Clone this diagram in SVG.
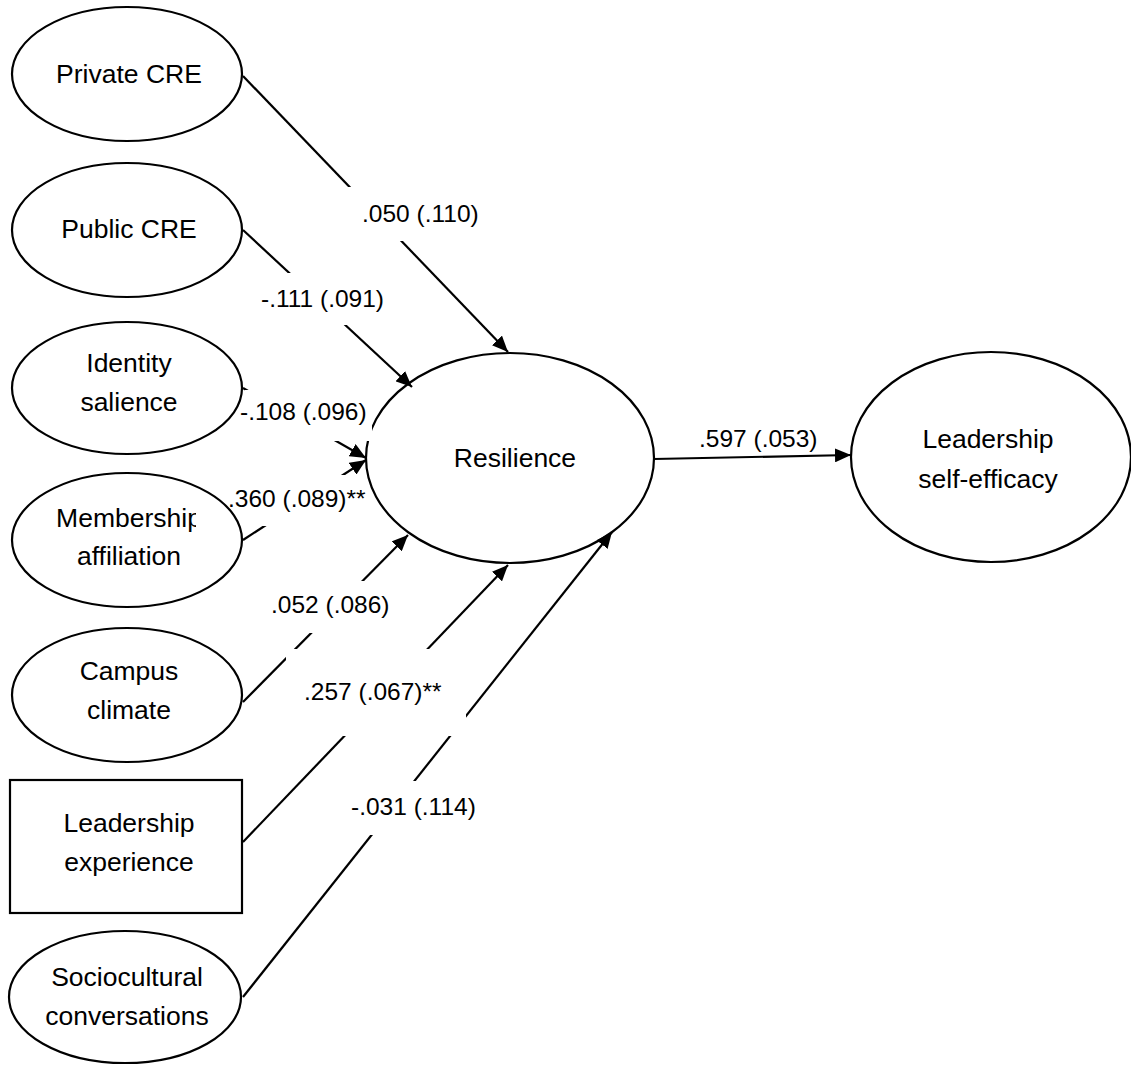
<svg xmlns="http://www.w3.org/2000/svg" width="1131" height="1065" viewBox="0 0 1131 1065">
  <style>
    .shape { fill: #ffffff; stroke: #000000; stroke-width: 2.2; }
    .node-text { font-family: "Liberation Sans", Arial, sans-serif; font-size: 26.5px; fill: #000000; text-anchor: middle; }
    .path { stroke: #000000; stroke-width: 2.2; fill: none; }
    .arrow { marker-end: url(#head); }
    .mask { fill: #ffffff; stroke: none; }
    .coef { font-family: "Liberation Sans", Arial, sans-serif; font-size: 24.5px; fill: #000000; }
  </style>
  <defs>
    <marker id="head" viewBox="0 0 16 14" refX="16" refY="7" markerWidth="16" markerHeight="14" markerUnits="userSpaceOnUse" orient="auto">
      <path d="M0,0 L16,7 L0,14 Z" fill="#000000"/>
    </marker>
    <!-- the .360 label box overlaps the end of "Membership" -->
    <clipPath id="clip-membership">
      <rect x="0" y="450" width="196" height="150"/>
    </clipPath>
  </defs>
  <rect width="1131" height="1065" fill="#ffffff"/>

  <!-- predictors -->
  <g id="private-cre">
    <ellipse class="shape" cx="127" cy="74" rx="115" ry="67"/>
    <text class="node-text" x="129" y="83">Private CRE</text>
  </g>
  <g id="public-cre">
    <ellipse class="shape" cx="127" cy="230" rx="115" ry="67"/>
    <text class="node-text" x="129" y="238">Public CRE</text>
  </g>
  <g id="identity-salience">
    <ellipse class="shape" cx="127" cy="388" rx="115" ry="66"/>
    <text class="node-text" x="129" y="372">Identity</text>
    <text class="node-text" x="129" y="411">salience</text>
  </g>
  <g id="membership-affiliation">
    <ellipse class="shape" cx="127" cy="540" rx="115" ry="67"/>
    <text class="node-text" x="129" y="527" clip-path="url(#clip-membership)">Membership</text>
    <text class="node-text" x="129" y="565">affiliation</text>
  </g>
  <g id="campus-climate">
    <ellipse class="shape" cx="127" cy="695" rx="115" ry="67"/>
    <text class="node-text" x="129" y="680">Campus</text>
    <text class="node-text" x="129" y="719">climate</text>
  </g>
  <g id="leadership-experience">
    <rect class="shape" x="10" y="780" width="232" height="133"/>
    <text class="node-text" x="129" y="832">Leadership</text>
    <text class="node-text" x="129" y="871">experience</text>
  </g>
  <g id="sociocultural-conversations">
    <ellipse class="shape" cx="125" cy="997" rx="116" ry="66"/>
    <text class="node-text" x="127" y="986">Sociocultural</text>
    <text class="node-text" x="127" y="1025">conversations</text>
  </g>

  <!-- mediator and outcome -->
  <g id="resilience">
    <ellipse class="shape" cx="510" cy="458" rx="144" ry="105"/>
    <text class="node-text" x="515" y="467">Resilience</text>
  </g>
  <g id="leadership-self-efficacy">
    <ellipse class="shape" cx="991" cy="457" rx="140" ry="105"/>
    <text class="node-text" x="988" y="448">Leadership</text>
    <text class="node-text" x="988" y="488">self-efficacy</text>
  </g>

  <!-- paths with coefficient labels on white boxes -->
  <g id="connectors">
    <line class="path arrow" x1="243" y1="76" x2="508" y2="352"/>
    <line class="path arrow" x1="243" y1="230" x2="412" y2="387"/>
    <line class="path arrow" x1="243" y1="388" x2="366" y2="458"/>
    <line class="path arrow" x1="243" y1="540" x2="366" y2="460"/>
    <line class="path arrow" x1="243" y1="702" x2="408" y2="535"/>
    <line class="path arrow" x1="243" y1="842" x2="508" y2="565"/>
    <line class="path arrow" x1="243" y1="997" x2="612" y2="532"/>
    <line class="path arrow" x1="654" y1="459" x2="851" y2="455"/>

    <rect class="mask" x="345" y="187" width="145" height="54"/>
    <rect class="mask" x="255" y="273" width="140" height="52"/>
    <rect class="mask" x="245" y="390" width="127" height="51"/>
    <rect class="mask" x="244" y="475" width="106" height="51"/>
    <rect class="mask" x="268" y="581" width="132" height="52"/>
    <rect class="mask" x="286" y="649" width="180" height="87"/>
    <rect class="mask" x="340" y="781" width="140" height="54"/>

    <text class="coef" x="362" y="222">.050 (.110)</text>
    <text class="coef" x="261" y="307">-.111 (.091)</text>
    <text class="coef" x="240" y="420">-.108 (.096)</text>
    <text class="coef" x="228" y="507">.360 (.089)**</text>
    <text class="coef" x="271" y="613">.052 (.086)</text>
    <text class="coef" x="304" y="700">.257 (.067)**</text>
    <text class="coef" x="351" y="815">-.031 (.114)</text>
    <text class="coef" x="699" y="447">.597 (.053)</text>
  </g>
</svg>
